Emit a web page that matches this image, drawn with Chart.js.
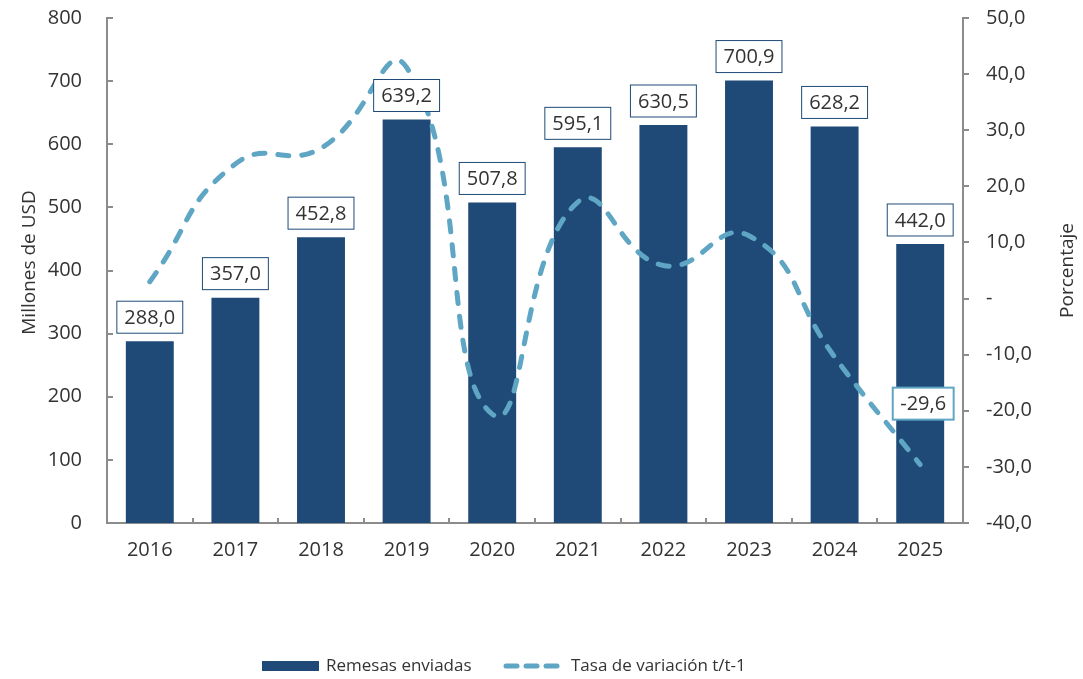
<!DOCTYPE html>
<html>
<head>
<meta charset="utf-8">
<script src="https://cdn.jsdelivr.net/npm/chart.js@4"></script>
<style>
  html, body { margin: 0; padding: 0; background: #fff; }
  #wrap { width: 1083px; height: 679px; position: relative; }
</style>
</head>
<body>
<div id="wrap"><canvas id="chart"></canvas></div>
<script>
// ── DATA ──
const years = ['2016', '2017', '2018', '2019', '2020', '2021', '2022', '2023', '2024', '2025'];
const remesas = [288.0, 357.0, 452.8, 639.2, 507.8, 595.1, 630.5, 700.9, 628.2, 442.0];
const tasa = [3.0, 24.0, 26.8, 41.2, -20.6, 17.2, 5.9, 11.2, -10.4, -29.6];
const leftRange = [0, 800, 100];
const rightRange = [-40, 50, 10];

const BAR = '#1f4a77';
const LINE = '#5fa5c4';
const AXIS = '#8c8c8c';
const TXT = '#333333';
const FAMILY = '"Open Sans", sans-serif';
const NUM_SIZE = 20;
const FONT = NUM_SIZE + 'px ' + FAMILY;

const fmt = v => v.toFixed(1).replace('.', ',');

function drawBox(ctx, text, cx, bottom, color, lw) {
  const w = ctx.measureText(text).width + 15;
  const h = 32;
  ctx.fillStyle = '#fff';
  ctx.fillRect(cx - w / 2, bottom - h, w, h);
  ctx.strokeStyle = color;
  ctx.lineWidth = lw;
  ctx.strokeRect(cx - w / 2, bottom - h, w, h);
  ctx.fillStyle = TXT;
  ctx.textAlign = 'center';
  ctx.textBaseline = 'middle';
  ctx.fillText(text, cx, bottom - h / 2 + 1);
}

// ── LABELS, TICKS, TITLES, LEGEND ──
const extras = {
  id: 'extras',
  afterDatasetsDraw(chart) {
    const ctx = chart.ctx;
    ctx.save();
    ctx.font = FONT;
    chart.getDatasetMeta(0).data.forEach((bar, i) => {
      drawBox(ctx, fmt(remesas[i]), bar.x, bar.y - 8, BAR, 1);
    });
    const pts = chart.getDatasetMeta(1).data;
    const last = pts[pts.length - 1];
    drawBox(ctx, fmt(tasa[tasa.length - 1]), last.x + 3, last.y - 45, LINE, 2);
    ctx.restore();
  },
  afterDraw(chart) {
    const ctx = chart.ctx;
    const {left, right, top, bottom} = chart.chartArea;
    const y = chart.scales.y;
    const x = chart.scales.x;
    ctx.save();
    ctx.strokeStyle = AXIS;
    ctx.lineWidth = 2;
    // inward ticks on the left axis
    y.ticks.forEach(t => {
      const py = Math.round(y.getPixelForValue(t.value));
      ctx.beginPath(); ctx.moveTo(left, py); ctx.lineTo(left + 6, py); ctx.stroke();
    });
    // category boundary ticks on the x axis
    for (let i = 1; i < years.length; i++) {
      const px = Math.round((x.getPixelForValue(i - 1) + x.getPixelForValue(i)) / 2);
      ctx.beginPath(); ctx.moveTo(px, bottom); ctx.lineTo(px, bottom - 5); ctx.stroke();
    }
    // axis titles
    ctx.fillStyle = TXT;
    ctx.font = '19px ' + FAMILY;
    ctx.textAlign = 'center';
    ctx.textBaseline = 'middle';
    const midY = (top + bottom) / 2;
    ctx.save(); ctx.translate(30, midY - 8); ctx.rotate(-Math.PI / 2); ctx.fillText('Millones de USD', 0, 0); ctx.restore();
    ctx.save(); ctx.translate(1068, midY); ctx.rotate(-Math.PI / 2); ctx.fillText('Porcentaje', 0, 0); ctx.restore();
    // legend
    const ly = 666;
    ctx.font = '17px ' + FAMILY;
    ctx.fillStyle = BAR;
    ctx.fillRect(262, ly - 5, 57, 10);
    ctx.fillStyle = TXT;
    ctx.textAlign = 'left';
    ctx.fillText('Remesas enviadas', 326, ly);
    ctx.strokeStyle = LINE;
    ctx.lineWidth = 5;
    ctx.lineCap = 'round';
    [506, 526, 546].forEach(sx => {
      ctx.beginPath(); ctx.moveTo(sx, ly); ctx.lineTo(sx + 11, ly); ctx.stroke();
    });
    ctx.fillText('Tasa de variación t/t-1', 571, ly);
    ctx.restore();
  }
};

const noPad = s => { s.paddingTop = 0; s.paddingBottom = 0; };

new Chart(document.getElementById('chart'), {
  type: 'bar',
  data: {
    labels: years,
    datasets: [
      {
        label: 'Remesas enviadas',
        data: remesas,
        backgroundColor: BAR,
        barPercentage: 0.56,
        categoryPercentage: 1,
        yAxisID: 'y',
        order: 1
      },
      {
        label: 'Tasa de variación t/t-1',
        data: tasa,
        type: 'line',
        borderColor: LINE,
        borderWidth: 5,
        borderDash: [11, 13],
        borderCapStyle: 'round',
        tension: 0.5,
        pointRadius: 0,
        fill: false,
        yAxisID: 'y1',
        order: 0
      }
    ]
  },
  options: {
    responsive: true,
    maintainAspectRatio: false,
    animation: false,
    layout: { padding: { top: 18, left: 0, right: 0, bottom: 0 } },
    plugins: { legend: { display: false }, tooltip: { enabled: false } },
    scales: {
      x: {
        grid: { display: false },
        border: { color: AXIS, width: 2 },
        ticks: { color: TXT, font: { family: FAMILY, size: NUM_SIZE }, padding: 7 },
        afterFit: s => { s.height = 156; }
      },
      y: {
        position: 'left',
        min: leftRange[0], max: leftRange[1],
        grid: { display: false },
        border: { color: AXIS, width: 2 },
        ticks: { stepSize: leftRange[2], color: TXT, font: { family: FAMILY, size: NUM_SIZE }, padding: 17 },
        afterFit: s => { s.width = 107; noPad(s); }
      },
      y1: {
        position: 'right',
        min: rightRange[0], max: rightRange[1],
        grid: { drawOnChartArea: false, drawTicks: true, tickLength: 6, color: AXIS, lineWidth: 2 },
        border: { color: AXIS, width: 2 },
        ticks: {
          stepSize: rightRange[2], color: TXT, font: { family: FAMILY, size: NUM_SIZE }, padding: 17,
          callback: v => v === 0 ? '-' : fmt(v)
        },
        afterFit: s => { s.width = 120; noPad(s); }
      }
    }
  },
  plugins: [extras]
});
</script>
</body>
</html>
